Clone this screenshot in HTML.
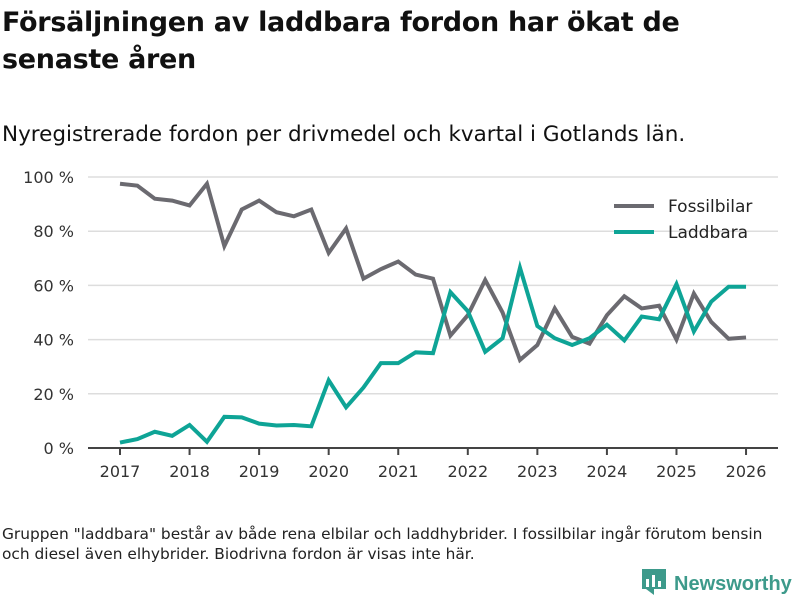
<!DOCTYPE html>
<html><head><meta charset="utf-8"><style>
body{margin:0;width:800px;height:600px;background:#fff;font-family:"DejaVu Sans","Liberation Sans",sans-serif;color:#111;overflow:hidden;position:relative}
.t{position:absolute;left:2px;top:4px;font-size:27px;font-weight:bold;line-height:37px;width:790px;letter-spacing:-0.3px}
.s{position:absolute;left:2px;top:122px;font-size:21.5px}
.f{position:absolute;left:2px;top:524px;font-size:15.4px;line-height:20px;color:#222;white-space:nowrap}
.logo{position:absolute;left:642px;top:569px;font-family:"Liberation Sans",sans-serif;font-size:20px;font-weight:bold;color:#3d9a8b;white-space:nowrap}
</style></head><body>
<div class="t">Försäljningen av laddbara fordon har ökat de senaste åren</div>
<div class="s">Nyregistrerade fordon per drivmedel och kvartal i Gotlands län.</div>
<svg id="c" width="800" height="600" style="position:absolute;left:0;top:0"></svg>
<div class="f">Gruppen "laddbara" består av både rena elbilar och laddhybrider. I fossilbilar ingår förutom bensin<br>och diesel även elhybrider. Biodrivna fordon är visas inte här.</div>
<div class="logo"><svg width="24" height="26" style="vertical-align:-5px;margin-right:8px"><rect x="0" y="0" width="24" height="20" fill="#3d9a8b"/><polygon points="4,20 12,26 12,20" fill="#3d9a8b"/><rect x="4" y="10" width="3" height="8" fill="#fff"/><rect x="10" y="6" width="3" height="12" fill="#fff"/><rect x="16" y="12" width="3" height="6" fill="#fff"/></svg>Newsworthy</div>
<script>
const fossil=[97.5,96.8,92,91.3,89.5,97.5,74.5,88,91.3,87,85.5,88,72,81,62.5,66,68.8,64,62.5,41.5,49,62,50,32.5,38,51.5,41,38.5,49,56,51.5,52.5,40,57,46.5,40.3,40.8];
const laddbara=[2,3.3,6,4.5,8.5,2.3,11.5,11.3,9,8.3,8.5,8,25,15,22.3,31.3,31.3,35.3,35,57.5,50.5,35.5,40.5,66.5,45,40.5,38,40.5,45.5,39.7,48.5,47.5,60.5,43,54,59.5,59.5];
const startYear=2017;
const xTicks=[2017,2018,2019,2020,2021,2022,2023,2024,2025,2026];
const yTicks=[0,20,40,60,80,100];
const svg=document.getElementById('c');const NS='http://www.w3.org/2000/svg';
const x=v=>120+(v-2017)*69.56, y=v=>448-v*2.71;
function mk(t,a,p){const e=document.createElementNS(NS,t);for(const k in a)e.setAttribute(k,a[k]);(p||svg).appendChild(e);return e;}
yTicks.forEach(v=>{
 const g=mk('line',{x1:88,x2:778,y1:y(v),y2:y(v),stroke:v?'#ddd':'#444','stroke-width':v?1.5:2});
 
 
 const t=mk('text',{x:74,y:y(v)+6,'text-anchor':'end','font-size':16,fill:'#333'});t.textContent=v+' %';
 
 
});
xTicks.forEach(v=>{
 const l=mk('line',{x1:x(v),x2:x(v),y1:449,y2:455,stroke:'#444','stroke-width':2});
 
 
 const t=mk('text',{x:x(v),y:477,'text-anchor':'middle','font-size':16,fill:'#333'});t.textContent=v;
 
 
});
function line(d,c,n){const p=mk('polyline',{points:d.map((v,i)=>x(startYear+i/4)+','+y(v)).join(' '),fill:'none',stroke:c,'stroke-width':4,'stroke-linejoin':'miter'});
 
 }
line(fossil,'#6b6a70','fossilbilar-line');
line(laddbara,'#0ea496','laddbara-line');
[['Fossilbilar','#6b6a70',206],['Laddbara','#0ea496',232]].forEach(([n,c,yy])=>{
 const l=mk('line',{x1:614,x2:654,y1:yy,y2:yy,stroke:c,'stroke-width':4});
 
 
 const t=mk('text',{x:668,y:yy+6,'font-size':17,fill:'#222'});t.textContent=n;
 
 
});
</script>
</body></html>
